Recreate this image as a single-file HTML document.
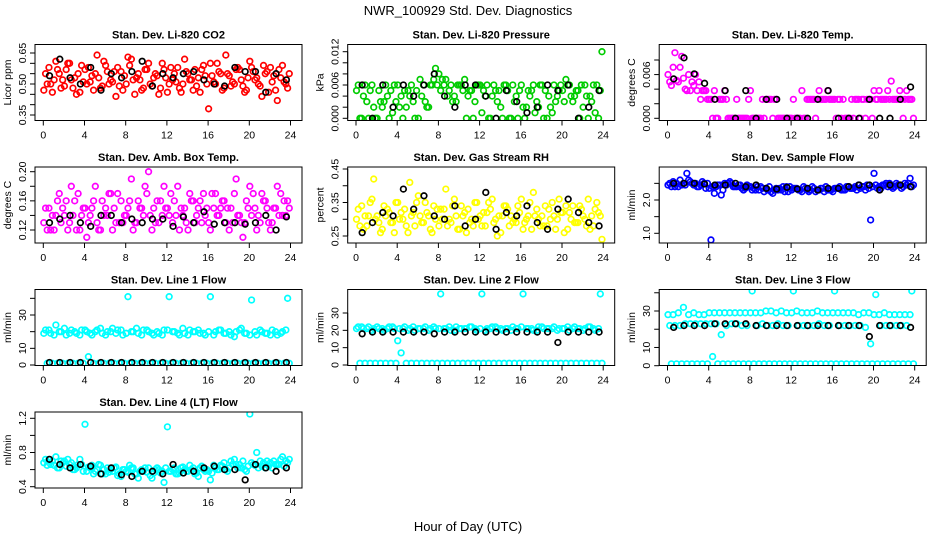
<!DOCTYPE html>
<html><head><meta charset="utf-8"><style>
body{margin:0;background:#fff}
svg{display:block;font-family:"Liberation Sans",sans-serif}
</style></head><body>
<svg id="c" width="936" height="540" xmlns="http://www.w3.org/2000/svg">
<rect width="936" height="540" fill="#fff"/>
<text x="468" y="15" text-anchor="middle" font-size="13">NWR_100929  Std. Dev. Diagnostics</text>
<text x="468" y="531" text-anchor="middle" font-size="13">Hour of Day (UTC)</text>
</svg>
<script>
// shared category grids (hours)
const hoursColor = [0.05,0.55,1.05,1.55,2.05,2.55,3.05,3.55,4.05,4.55,5.05,5.55,6.05,6.55,7.05,7.55,8.05,8.55,9.05,9.55,10.05,10.55,11.05,11.55,12.05,12.55,13.05,13.55,14.05,14.55,15.05,15.55,16.05,16.55,17.05,17.55,18.05,18.55,19.05,19.55,20.05,20.55,21.05,21.55,22.05,22.55,23.05,23.55];
const hoursBlack = [0.6,1.6,2.6,3.6,4.6,5.6,6.6,7.6,8.6,9.6,10.6,11.6,12.6,13.6,14.6,15.6,16.6,17.6,18.6,19.6,20.6,21.6,22.6,23.6];
const xTicks = [0,4,8,12,16,20,24];

// Panel 1: CO2
const co2A=[0.47,0.58,0.52,0.55,0.49,0.60,0.53,0.46,0.57,0.51,0.55,0.48,0.59,0.52,0.44,0.56,0.50,0.62,0.53,0.47,0.57,0.49,0.54,0.60,0.46,0.52,0.58,0.50,0.55,0.47,0.53,0.59,0.38,0.51,0.56,0.48,0.54,0.50,0.57,0.46,0.61,0.52,0.49,0.55,0.58,0.47,0.53,0.50];
const co2B=[0.55,0.50,0.61,0.48,0.57,0.52,0.45,0.59,0.50,0.54,0.64,0.49,0.56,0.51,0.58,0.47,0.63,0.52,0.55,0.48,0.60,0.53,0.45,0.57,0.50,0.55,0.48,0.62,0.52,0.57,0.46,0.54,0.60,0.50,0.55,0.64,0.49,0.57,0.52,0.47,0.58,0.53,0.44,0.56,0.51,0.42,0.59,0.48];
const co2C=[0.50,0.46,0.57,0.52,0.60,0.48,0.55,0.51,0.58,0.47,0.53,0.61,0.50,0.56,0.49,0.54,0.59,0.45,0.52,0.57,0.50,0.55,0.48,0.53,0.58,0.51,0.46,0.56,0.52,0.49,0.57,0.50,0.54,0.60,0.47,0.55,0.51,0.58,0.49,0.53,0.56,0.50,0.59,0.46,0.54,0.57,0.51,0.55];
const co2K=[0.54,0.62,0.53,0.50,0.58,0.47,0.55,0.53,0.56,0.61,0.49,0.55,0.53,0.55,0.56,0.52,0.50,0.49,0.58,0.56,0.56,0.46,0.55,0.52];
// Panel 2: pressure
const prA=[0.005,0,0.003,0.006,0,0.002,0.004,0.001,0.006,0,0.005,0.003,0,0.006,0.002,0.007,0.008,0.006,0.005,0.004,0.006,0.007,0.005,0.003,0.006,0.004,0,0.005,0.002,0.006,0,0.004,0.006,0.002,0.005,0.003,0.006,0,0.001,0.004,0.005,0.006,0.003,0.005,0.002,0,0.006,0];
const prB=[0.006,0.004,0,0.002,0.005,0.003,0,0.006,0.002,0.005,0.004,0,0.007,0.003,0.006,0.009,0.005,0.007,0.006,0.003,0.006,0,0.005,0.006,0.001,0.006,0.004,0.003,0,0.005,0.006,0,0.002,0.005,0.006,0.002,0,0.004,0.006,0.005,0.003,0.006,0.004,0,0.006,0.004,0.001,0.005];
const prC=[0,0.006,0.005,0,0.003,0.006,0.005,0.003,0.004,0.002,0.006,0.005,0.004,0.002,0.006,0.006,0.007,0.004,0.003,0.006,0.005,0.004,0,0.006,0.005,0,0.006,0.005,0.006,0,0.003,0.005,0,0.004,0.001,0.006,0.005,0.002,0.003,0.006,0.007,0.004,0.005,0.006,0.004,0.003,0.006,0.012];
const prK=[0.006,0,0.006,0.002,0.006,0.004,0.006,0.008,0.004,0.002,0.006,0.006,0.004,0,0.005,0.003,0.001,0.002,0.006,0.005,0.006,0,0.002,0.005];
// Panel 3: Li-820 temp
const tmA=[0.006,0.007,0.005,0.0055,0.006,0.0045,0.005,0.0038,0.0026,0.0038,0.0026,0.0038,0,0,0,0,0.0038,0,0,0.0026,0.0026,0.0026,0,0,0,0,0.0038,0.0026,0.0026,0.0026,0.0026,0.0038,0.0026,0.0026,0.0026,0,0,0.0026,0.0026,0.0026,0.0038,0.0038,0.0026,0.0026,0.0026,0.0038,0.0026,0.0026];
const tmB=[0.005,0.009,0.007,0.004,0.0038,0.006,0.0026,0.0038,0.0026,0,0.0026,0.0026,0,0.0026,0,0,0,0,0.0026,0.0026,0,0,0,0,0.0026,0,0,0.0026,0.0026,0.0038,0.0026,0.0026,0.0026,0.0026,0,0,0.0026,0,0,0.0026,0.0026,0.0026,0.0026,0.0051,0.0026,0.0026,0.0038,0.0026];
const tmC=[0.0045,0.0052,0.0085,0.0038,0.0050,0.0038,0.0038,0.0026,0,0,0.0026,0,0,0,0,0.0026,0,0,0,0.0026,0.0026,0,0,0,0,0,0,0.0026,0,0.0026,0.0026,0.0026,0,0,0,0.0026,0.0026,0.0026,0.0026,0,0.0026,0.0026,0.0038,0.0026,0.0026,0,0.0026,0];
const tmK=[0.0054,0.0083,0.0061,0.0048,0.0026,0.0038,0,0.0038,0,0.0026,0.0026,0,0,0,0.0026,0.0038,0,0,0,0.0026,0,0,0.0026,0.0043];
// Panel 4: amb box temp
const abA=[0.13,0.15,0.12,0.17,0.14,0.13,0.16,0.12,0.15,0.14,0.18,0.12,0.15,0.17,0.13,0.16,0.14,0.19,0.13,0.15,0.17,0.12,0.16,0.14,0.15,0.13,0.18,0.14,0.12,0.16,0.15,0.17,0.13,0.15,0.14,0.16,0.12,0.17,0.14,0.13,0.18,0.15,0.13,0.16,0.12,0.15,0.17,0.14];
const abB=[0.15,0.12,0.14,0.13,0.16,0.18,0.12,0.14,0.11,0.15,0.13,0.16,0.14,0.12,0.17,0.13,0.15,0.12,0.16,0.14,0.20,0.15,0.13,0.18,0.14,0.16,0.12,0.15,0.17,0.13,0.16,0.14,0.12,0.17,0.15,0.13,0.15,0.19,0.13,0.16,0.14,0.12,0.17,0.15,0.13,0.18,0.14,0.16];
const abC=[0.12,0.14,0.16,0.15,0.12,0.14,0.17,0.15,0.13,0.16,0.12,0.14,0.17,0.15,0.13,0.14,0.16,0.13,0.15,0.18,0.14,0.13,0.16,0.15,0.17,0.14,0.15,0.13,0.16,0.14,0.13,0.15,0.17,0.14,0.16,0.15,0.13,0.14,0.11,0.15,0.17,0.14,0.16,0.13,0.15,0.14,0.16,0.15];
const abK=[0.13,0.135,0.14,0.13,0.125,0.14,0.14,0.13,0.135,0.13,0.135,0.135,0.125,0.138,0.13,0.145,0.128,0.13,0.13,0.128,0.13,0.14,0.12,0.138];
// Panel 5: RH
const rhA=[0.30,0.34,0.28,0.36,0.31,0.27,0.33,0.29,0.35,0.30,0.26,0.32,0.37,0.29,0.31,0.34,0.28,0.33,0.30,0.36,0.27,0.32,0.29,0.35,0.31,0.28,0.33,0.30,0.26,0.34,0.31,0.29,0.36,0.30,0.27,0.33,0.31,0.28,0.35,0.30,0.32,0.27,0.34,0.29,0.31,0.36,0.28,0.32];
const rhB=[0.33,0.27,0.31,0.42,0.29,0.34,0.32,0.26,0.30,0.33,0.41,0.28,0.31,0.35,0.27,0.30,0.33,0.39,0.29,0.31,0.34,0.26,0.30,0.35,0.28,0.32,0.36,0.25,0.31,0.33,0.29,0.34,0.27,0.31,0.38,0.30,0.28,0.33,0.31,0.36,0.26,0.32,0.29,0.34,0.30,0.27,0.33,0.31];
const rhC=[0.28,0.31,0.35,0.30,0.26,0.31,0.29,0.35,0.32,0.28,0.31,0.35,0.29,0.32,0.26,0.33,0.30,0.28,0.34,0.27,0.31,0.33,0.28,0.30,0.32,0.35,0.29,0.31,0.34,0.28,0.30,0.32,0.29,0.35,0.31,0.28,0.34,0.30,0.27,0.32,0.34,0.30,0.29,0.33,0.28,0.31,0.35,0.24];
const rhK=[0.26,0.29,0.32,0.31,0.39,0.33,0.37,0.31,0.30,0.34,0.28,0.30,0.38,0.27,0.32,0.31,0.34,0.29,0.27,0.33,0.36,0.32,0.29,0.28];
// Panel 6: sample flow
const sfA=[2.45,2.55,2.4,2.5,2.6,2.45,2.4,2.5,2.35,2.2,2.45,2.5,2.55,2.4,2.45,2.35,2.4,2.3,2.4,2.35,2.25,2.35,2.3,2.4,2.3,2.35,2.25,2.3,2.4,2.3,2.35,2.3,2.25,2.35,2.3,2.4,2.35,2.45,2.4,2.35,2.8,2.4,2.45,2.5,2.4,2.45,2.5,2.65];
const sfB=[2.5,2.4,2.6,2.45,2.55,2.5,2.45,2.35,0.8,2.4,2.15,2.45,2.5,2.4,2.35,2.45,2.3,2.4,2.35,2.3,2.2,2.3,2.4,2.25,2.35,2.3,2.4,2.25,2.35,2.3,2.25,2.3,2.35,2.4,2.3,2.35,2.4,2.35,2.3,1.4,2.45,2.35,2.5,2.4,2.5,2.35,2.45,2.4];
const sfC=[2.4,2.5,2.45,2.8,2.5,2.4,2.55,2.5,2.4,2.45,2.3,2.5,2.4,2.45,2.3,2.4,2.35,2.3,2.25,2.4,2.3,2.35,2.25,2.4,2.35,2.3,2.35,2.3,2.25,2.35,2.4,2.3,2.35,2.3,2.4,2.35,2.3,2.4,2.45,2.4,2.35,2.45,2.4,2.35,2.45,2.4,2.5,2.45];
const sfK=[2.5,2.5,2.5,2.48,2.45,2.45,2.5,2.4,2.45,2.35,2.33,2.38,2.33,2.35,2.3,2.35,2.35,2.4,2.45,2.45,2.3,2.45,2.45,2.4];
// Panel 7: line 1
const l1A=[19,21,18,20,22,19,20,18,21,19,20,22,18,20,19,21,19,20,22,18,21,19,20,18,21,20,19,22,18,20,21,19,20,18,21,19,20,17,21,19,18,20,21,19,18,20,19,21];
const l1B=[21,19,24,20,18,21,19,21,20,18,21,19,20,22,21,18,41,20,19,21,20,18,19,21,41,20,18,19,21,20,19,18,41,20,21,19,18,20,22,19,39,18,20,19,21,18,20,40];
const l1C=[1,1,1,1,1,1,1,1,5,1,1,1,1,1,1,1,1,1,1,1,1,1,1,1,1,1,1,1,1,1,1,1,1,1,1,1,1,1,1,1,1,1,1,1,1,1,1,1];
const l1K=[1.5,1.5,1.5,1.5,1.5,1.5,1.5,1.5,1.5,1.5,1.5,1.5,1.5,1.5,1.5,1.5,1.5,1.5,1.5,1.5,1.5,1.5,1.5,1.5];
// Panel 8: line 2
const l2A=[21,22,21,20,22,21,21,22,14,21,20,22,21,21,20,22,21,21,22,20,21,21,22,21,21,20,21,22,21,21,20,21,22,21,21,20,22,21,21,20,21,22,21,21,20,22,21,21];
const l2B=[22,21,22,21,21,20,22,21,21,22,21,20,21,22,21,21,41,21,20,22,21,21,22,20,41,21,22,21,20,21,22,21,41,21,20,22,21,21,22,21,21,20,22,21,21,22,20,41];
const l2C=[1,1,1,1,1,1,1,1,7,1,1,1,1,1,1,1,1,1,1,1,1,1,1,1,1,1,1,1,1,1,1,1,1,1,1,1,1,1,1,1,1,1,1,1,1,1,1,1];
const l2K=[18,19,19,19,19,19,19,18,19,19,19,19,19,19,19,19,19,19,19,13,19,19,19,19];
// Panel 9: line 3
const l3A=[28,28,29,32,28,29,28,28,29,29,29,29,29,29,29,29,29,29,29,30,30,29,30,29,29,30,29,29,29,30,29,29,29,29,29,29,29,28,29,29,28,28,29,28,28,28,28,28];
const l3B=[22,22,22,23,23,23,23,23,23,23,17,22,23,23,22,22,41,22,23,22,22,23,22,22,41,22,22,22,22,23,22,22,41,22,22,22,22,22,21,12,39,22,22,22,22,22,22,41];
const l3C=[1,1,1,1,1,1,1,1,5,1,1,1,1,1,1,1,1,1,1,1,1,1,1,1,1,1,1,1,1,1,1,1,1,1,1,1,1,1,1,1,1,1,1,1,1,1,1,1];
const l3K=[21,22,22,22,23,23,23,23,22,22,22,22,22,22,22,22,22,22,22,16,22,22,22,21];
// Panel 10: line 4
const l4A=[0.68,0.72,0.65,0.62,0.70,0.66,0.60,0.72,1.13,0.62,0.58,0.65,0.55,0.60,0.63,0.52,0.58,0.62,0.55,0.60,0.57,0.50,0.62,0.58,1.10,0.60,0.55,0.63,0.58,0.62,0.52,0.60,0.58,0.65,0.60,0.68,0.62,0.72,0.66,0.60,1.25,0.65,0.70,0.62,0.68,0.66,0.72,0.70];
const l4B=[0.72,0.66,0.75,0.70,0.64,0.68,0.62,0.66,0.58,0.65,0.60,0.55,0.62,0.58,0.53,0.60,0.57,0.62,0.50,0.58,0.62,0.56,0.60,0.45,0.58,0.62,0.56,0.60,0.65,0.55,0.62,0.58,0.48,0.62,0.65,0.60,0.70,0.66,0.62,0.58,0.68,0.80,0.64,0.70,0.62,0.66,0.75,0.68];
const l4C=[0.65,0.70,0.62,0.68,0.72,0.60,0.66,0.58,0.63,0.55,0.66,0.60,0.57,0.62,0.55,0.60,0.65,0.55,0.58,0.62,0.53,0.60,0.56,0.62,0.58,0.55,0.62,0.58,0.60,0.56,0.64,0.60,0.56,0.60,0.64,0.58,0.66,0.62,0.70,0.64,0.66,0.62,0.68,0.64,0.70,0.66,0.64,0.72];
const l4K=[0.72,0.66,0.62,0.66,0.64,0.55,0.62,0.54,0.52,0.58,0.58,0.55,0.66,0.56,0.58,0.62,0.64,0.60,0.60,0.48,0.66,0.62,0.58,0.62];

const yTicks1=[0.35,0.40,0.45,0.50,0.55,0.60,0.65], yLab1=["0.35","0.50","0.65"];
const yTicks2=[0,0.002,0.004,0.006,0.008,0.010,0.012], yLab2=["0.000","0.006","0.012"];
const yTicks3=[0,0.002,0.004,0.006,0.008], yLab3=["0.000","0.006"];
const yTicks4=[0.12,0.14,0.16,0.18,0.20], yLab4=["0.12","0.16","0.20"];
const yTicks5=[0.25,0.30,0.35,0.40,0.45], yLab5=["0.25","0.35","0.45"];
const yTicks6=[1.0,1.5,2.0,2.5], yLab6=["1.0","2.0"];
const yTicks7=[0,10,20,30,40], yLab7=["0","10","30"];
const yTicks8=[0,10,20,30], yLab8=["0","10","20","30"];
const yTicks10=[0.4,0.6,0.8,1.0,1.2], yLab10=["0.4","0.8","1.2"];

const NS="http://www.w3.org/2000/svg";
const svg=document.getElementById('c');
function el(tag,attrs,parent){const e=document.createElementNS(NS,tag);for(const k in attrs)e.setAttribute(k,attrs[k]);(parent||svg).appendChild(e);return e;}

const colX0=[43.3,356,667.5], rowTop=[44.5,167,289.5,412], BOXH=76, PXH=10.3;
const panels=[
 {t:"Stan. Dev. Li-820 CO2",yl:"Licor ppm",c:0,r:0,col:"#ff0000",s:[co2A,co2B,co2C],k:co2K,v1:0.65,p1:53,v2:0.35,p2:115,ticks:yTicks1,labs:yLab1},
 {t:"Stan. Dev. Li-820 Pressure",yl:"kPa",c:1,r:0,col:"#00cc00",s:[prA,prB,prC],k:prK,v1:0.012,p1:51.7,v2:0,p2:118.3,ticks:yTicks2,labs:yLab2},
 {t:"Stan. Dev. Li-820 Temp.",yl:"degrees C",c:2,r:0,col:"#ff00ff",s:[tmA,tmB,tmC],k:tmK,v1:0.008,p1:60,v2:0,p2:118.3,ticks:yTicks3,labs:yLab3},
 {t:"Stan. Dev. Amb. Box Temp.",yl:"degrees C",c:0,r:1,col:"#ff00ff",s:[abA,abB,abC],k:abK,v1:0.20,p1:171.7,v2:0.12,p2:230,ticks:yTicks4,labs:yLab4},
 {t:"Stan. Dev. Gas Stream RH",yl:"percent",c:1,r:1,col:"#ffff00",s:[rhA,rhB,rhC],k:rhK,v1:0.45,p1:169,v2:0.25,p2:236,ticks:yTicks5,labs:yLab5},
 {t:"Stan. Dev. Sample Flow",yl:"ml/min",c:2,r:1,col:"#0000ff",s:[sfA,sfB,sfC],k:sfK,v1:2.0,p1:200,v2:1.0,p2:233.3,ticks:yTicks6,labs:yLab6},
 {t:"Stan. Dev. Line 1 Flow",yl:"ml/min",c:0,r:2,col:"#00ffff",s:[l1A,l1B,l1C],k:l1K,v1:30,p1:315,v2:0,p2:365,ticks:yTicks7,labs:yLab7},
 {t:"Stan. Dev. Line 2 Flow",yl:"ml/min",c:1,r:2,col:"#00ffff",s:[l2A,l2B,l2C],k:l2K,v1:30,p1:313,v2:0,p2:365,ticks:yTicks8,labs:yLab8},
 {t:"Stan. Dev. Line 3 Flow",yl:"ml/min",c:2,r:2,col:"#00ffff",s:[l3A,l3B,l3C],k:l3K,v1:30,p1:311,v2:0,p2:365.7,ticks:yTicks7,labs:yLab7},
 {t:"Stan. Dev. Line 4 (LT) Flow",yl:"ml/min",c:0,r:3,col:"#00ffff",s:[l4A,l4B,l4C],k:l4K,v1:1.2,p1:418.3,v2:0.4,p2:486.7,ticks:yTicks10,labs:yLab10}
];
const offs=[0,0.17,0.33];
panels.forEach((P,i)=>{
  const x0=colX0[P.c], L=x0-8.3, W=267, T=rowTop[P.r], B=T+BOXH;
  const xs=h=>x0+h*PXH;
  const ys=v=>P.p2+(v-P.v2)*(P.p1-P.p2)/(P.v1-P.v2);
  const g=el('g',{});
  
  
  const tt=el('text',{x:L+W/2,y:T-6,'text-anchor':'middle','font-size':'11','font-weight':'bold'},g);tt.textContent=P.t;
  
  
  const yl=el('text',{transform:`translate(${L-24},${(T+B)/2}) rotate(-90)`,'text-anchor':'middle','font-size':'10.5'},g);yl.textContent=P.yl;
  
  
  P.ticks.forEach(v=>{const y=ys(v);el('line',{x1:L,x2:L-5,y1:y,y2:y,stroke:'#000'},g);});
  el('line',{x1:L,x2:L,y1:ys(P.ticks[0]),y2:ys(P.ticks[P.ticks.length-1]),stroke:'#000'},g);
  P.labs.forEach(s=>{const y=ys(parseFloat(s));const t=el('text',{transform:`translate(${L-9},${y}) rotate(-90)`,'text-anchor':'middle','font-size':'10.5'},g);t.textContent=s;
    
    });
  xTicks.forEach(h=>{const x=xs(h);el('line',{x1:x,x2:x,y1:B,y2:B+5,stroke:'#000'},g);
    const t=el('text',{x:x,y:B+18,'text-anchor':'middle','font-size':'10.5'},g);t.textContent=h;
    
    });
  el('line',{x1:xs(0),x2:xs(24),y1:B,y2:B,stroke:'#000'},g);
  const cl='clip'+i;const cp=el('clipPath',{id:cl},g);el('rect',{x:L,y:T,width:W,height:BOXH},cp);
  const pts=el('g',{'clip-path':`url(#${cl})`,fill:'none','stroke-width':'1.7'},g);
  P.s.forEach((arr,si)=>arr.forEach((v,j)=>{const c=el('circle',{cx:xs(hoursColor[j]+offs[si]),cy:ys(v),r:2.8,stroke:P.col},pts);
    
    }));
  P.k.forEach((v,j)=>{const c=el('circle',{cx:xs(hoursBlack[j]),cy:ys(v),r:2.8,stroke:'#000'},pts);
    
    });
  el('rect',{x:L,y:T,width:W,height:BOXH,fill:'none',stroke:'#000'},g);
});
</script>
</body></html>
